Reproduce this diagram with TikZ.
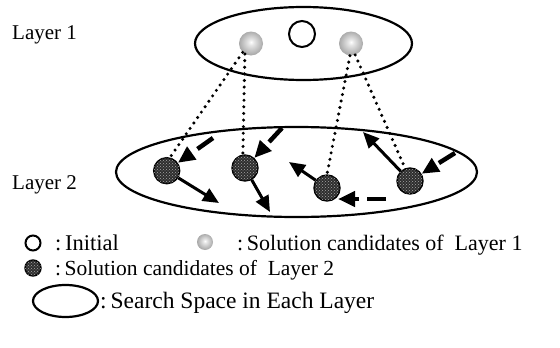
\documentclass[tikz,border=0pt]{standalone}
\usepackage{fontspec}
\setmainfont{Liberation Serif}
\usetikzlibrary{arrows.meta,shapes.geometric,patterns}
% pearl-like sphere: bright core, grey rim
\pgfdeclareradialshading{pearl}{\pgfpoint{0bp}{3bp}}{%
  color(0bp)=(white); color(6bp)=(white!90!black);
  color(30bp)=(white!60!black); color(50bp)=(white!45!black)}
\begin{document}
\begin{tikzpicture}[x=1pt,y=-1pt,
  label/.style={font=\fontsize{#1}{24}\selectfont, anchor=base west, inner sep=0pt},
  label/.default=21,
  space/.style={draw, ellipse, line width=2.2pt, inner sep=0pt},
  initial/.style={draw, circle, line width=2pt, inner sep=0pt, minimum size=#1},
  cand/.style={circle, inner sep=0pt, minimum size=#1, shading=pearl},
  deep/.style={circle, draw, line width=1.4pt, inner sep=0pt, minimum size=#1,
    fill=black!82, postaction={pattern=crosshatch dots, pattern color=white!65!black}},
  link/.style={line width=3.4pt, line cap=round, dash pattern=on 0pt off 6.6pt},
  move/.style={line width=3pt, -{Triangle[length=16pt,width=14pt]}},
  jump/.style={line width=4.5pt, dash pattern=on 19pt off 8pt, -{Triangle[length=17pt,width=15pt]}}
]
\useasboundingbox (0,0) rectangle (560,348);

% layer titles
\node[label] (t1) at (12,39) {Layer 1};
\node[label] (t2) at (12,189) {Layer 2};

% search spaces
\node[space, minimum width=217pt, minimum height=73pt] (L1) at (303.5,43.5) {};
\node[space, minimum width=361pt, minimum height=90pt] (L2) at (296.5,172) {};

% layer 1 contents
\node[initial=26pt] (init) at (302,34) {};
\node[cand=24pt] (s1) at (251,43.5) {};
\node[cand=24pt] (s2) at (351,43.5) {};

% layer 2 candidates
\node[deep=26pt] (d1) at (166.7,170.7) {};
\node[deep=26pt] (d2) at (245,168) {};
\node[deep=26pt] (d3) at (327,188) {};
\node[deep=26pt] (d4) at (410,181) {};

% descent from layer 1 to layer 2
\draw[link] (s1.227) -- (d1.76);
\draw[link] (s1.240) -- (d2.99);
\draw[link] (s2.265) -- (d3.90);
\draw[link] (s2.290) -- (d4.111);

% local moves
\coordinate (m1) at (219,203);
\coordinate (m2) at (270,212);
\coordinate (m3) at (289,162);
\coordinate (m4) at (363,132);
\draw[move] (d1) -- (m1);
\draw[move] (d2) -- (m2);
\draw[move] (d3) -- (m3);
\draw[move] (d4) -- (m4);

% jumps
\coordinate (j1) at (213,138);
\coordinate (j2) at (282,128);
\coordinate (j4) at (455,153);
\coordinate (j3a) at (386,199);
\coordinate (j3b) at (338,199);
\draw[jump] (j1) -- (d1);
\draw[jump] (j2) -- (d2);
\draw[jump] (j4) -- (d4);
\draw[jump] (j3a) -- (j3b);

% legend
\node[initial=15pt] (k1) at (33,243) {};
\node[label=22.5] (k1t) at (55,250) {:\,Initial};
\node[cand=16pt] (k2) at (205,242) {};
\node[label=22] (k2t) at (237,250) {:\,Solution candidates of\ \ Layer 1};
\node[deep=16pt] (k3) at (33,268) {};
\node[label=21.5] (k3t) at (55,275) {:\,Solution candidates of\ \ Layer 2};
\node[space, minimum width=65pt, minimum height=32pt] (k4) at (65.5,301) {};
\node[label=23.5] (k4t) at (100,308) {:\,Search Space in Each Layer};
\end{tikzpicture}
\end{document}
